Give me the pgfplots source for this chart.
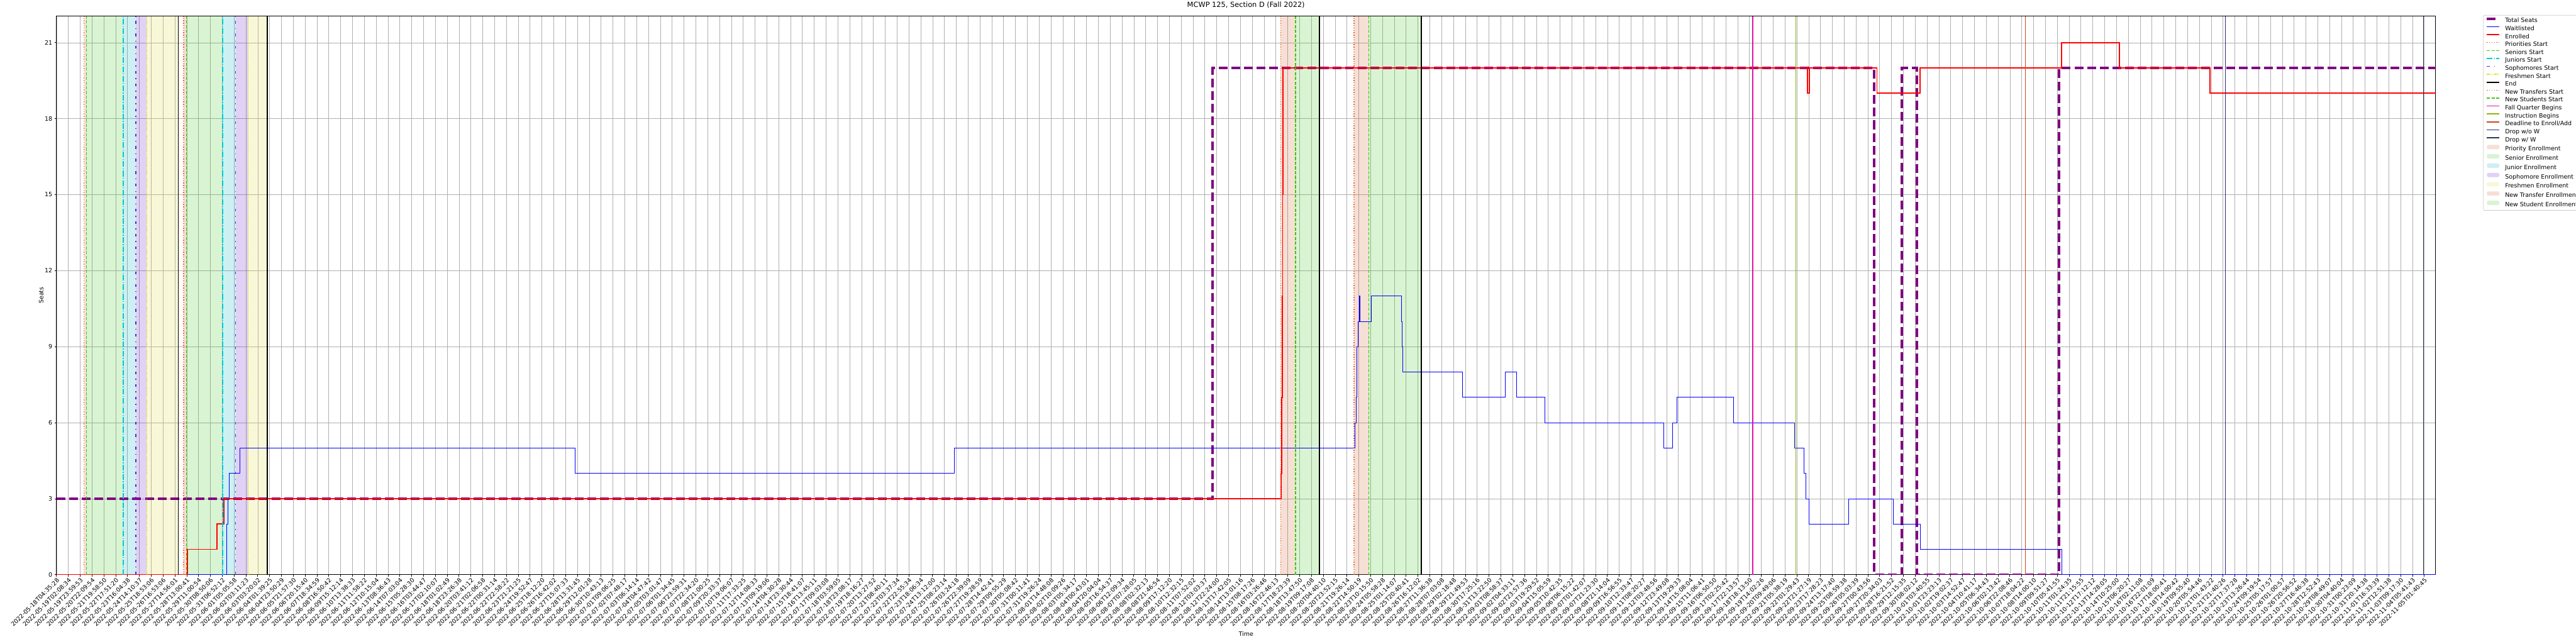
\documentclass[border=0pt]{standalone}
\usepackage{fontspec}
\setmainfont{DejaVu Sans}
\usepackage{pgfplots}
\pgfplotsset{compat=1.18}
\definecolor{cPri}{RGB}{240,100,50}
\definecolor{cSen}{RGB}{60,200,20}
\definecolor{cJun}{RGB}{0,200,215}
\definecolor{cSop}{RGB}{100,30,210}
\definecolor{cFre}{RGB}{225,225,40}
\definecolor{cFall}{RGB}{220,20,160}
\definecolor{cInst}{RGB}{140,180,20}
\definecolor{cDead}{RGB}{200,70,30}
\definecolor{cDropA}{RGB}{45,40,130}
\definecolor{cDropB}{RGB}{40,55,80}
\definecolor{fPri}{RGB}{210,95,45}
\definecolor{fSen}{RGB}{65,200,30}
\definecolor{fJun}{RGB}{5,180,190}
\definecolor{fSop}{RGB}{100,30,200}
\definecolor{fFre}{RGB}{220,220,60}
\definecolor{cGrid}{RGB}{176,176,176}
\definecolor{cLeg}{RGB}{204,204,204}
\definecolor{cSeats}{RGB}{128,0,128}
\tikzset{
 vpri/.style={color=cPri, line width=1.5bp, dash pattern=on 1.5bp off 2.5bp},
 vsen/.style={color=cSen, line width=1.5bp, dash pattern=on 5.5bp off 2.4bp},
 vjun/.style={color=cJun, line width=1.5bp, dash pattern=on 9.6bp off 2.4bp on 1.5bp off 2.4bp},
 vsop/.style={color=cSop, line width=1.5bp, dash pattern=on 4.5bp off 7.5bp on 1.5bp off 7.5bp},
 vfre/.style={color=cFre, line width=1.5bp, dash pattern=on 4.5bp off 1.5bp on 1.5bp off 1.5bp on 1.5bp off 1.5bp},
 vend/.style={color=black, line width=1.8bp},
 vfall/.style={color=cFall, line width=1.5bp},
 vinst/.style={color=cInst, line width=1.5bp},
 vdead/.style={color=cDead, line width=1.5bp},
 vdropa/.style={color=cDropA, line width=1.5bp},
 vdropb/.style={color=cDropB, line width=1.5bp},
}
\pgfplotsset{
 linelegend/.style={legend image code/.code={\draw[##1] (0bp,3.6bp) -- (21bp,3.6bp);}},
 arealegend/.style={legend image code/.code={\fill[##1, draw=none] (0bp,0bp) rectangle (21bp,7.2bp);}},
}
\begin{document}
\fontsize{10bp}{12bp}\selectfont
\begin{tikzpicture}
\useasboundingbox (0,0) rectangle (4320bp,1080bp);
\begin{axis}[
 at={(94.75bp,116.3bp)}, anchor=south west,
 scale only axis, width=3989.6bp, height=936.7bp,
 xmin=0, xmax=200.95, ymin=0, ymax=22.05,
 no markers,
 xtick pos=lower, ytick pos=left,
 xtick={0,...,200},
 ytick={0,3,...,21},
 xticklabels={2022-05-18T04:35:28,2022-05-19T02:08:34,2022-05-19T23:59:53,2022-05-20T22:09:54,2022-05-21T19:58:50,2022-05-22T17:51:20,2022-05-23T16:04:38,2022-05-24T14:10:37,2022-05-25T18:53:06,2022-05-26T16:53:06,2022-05-27T14:56:01,2022-05-28T13:00:41,2022-05-29T11:00:54,2022-05-30T08:50:06,2022-05-31T06:52:12,2022-06-01T05:05:58,2022-06-02T03:11:23,2022-06-03T03:20:02,2022-06-04T01:39:25,2022-06-04T23:50:29,2022-06-05T21:57:30,2022-06-06T20:15:40,2022-06-07T18:34:59,2022-06-08T16:50:42,2022-06-09T15:12:14,2022-06-10T13:38:33,2022-06-11T11:58:22,2022-06-12T10:15:04,2022-06-13T08:36:43,2022-06-14T07:03:04,2022-06-15T05:28:30,2022-06-16T03:44:47,2022-06-17T02:10:07,2022-06-18T01:02:49,2022-06-18T23:26:38,2022-06-20T03:41:12,2022-06-21T02:06:58,2022-06-22T00:31:14,2022-06-22T22:58:22,2022-06-23T21:21:25,2022-06-24T19:52:47,2022-06-25T18:12:20,2022-06-26T16:42:02,2022-06-27T15:07:33,2022-06-28T13:31:45,2022-06-29T12:01:28,2022-06-30T10:43:13,2022-07-01T09:06:25,2022-07-02T07:48:17,2022-07-03T06:14:14,2022-07-04T04:47:42,2022-07-05T03:01:47,2022-07-06T01:34:45,2022-07-06T23:59:31,2022-07-07T22:34:20,2022-07-08T21:00:25,2022-07-09T20:33:37,2022-07-10T19:06:07,2022-07-11T17:33:25,2022-07-12T14:08:33,2022-07-13T09:19:06,2022-07-14T04:30:28,2022-07-14T23:30:44,2022-07-15T18:41:07,2022-07-16T13:45:11,2022-07-17T09:03:08,2022-07-18T03:59:05,2022-07-18T23:08:17,2022-07-19T18:16:27,2022-07-20T13:27:52,2022-07-21T08:40:11,2022-07-22T03:37:34,2022-07-22T22:55:34,2022-07-23T18:06:34,2022-07-24T13:12:00,2022-07-25T08:23:14,2022-07-26T03:24:18,2022-07-26T22:39:09,2022-07-27T19:28:59,2022-07-28T14:42:41,2022-07-29T09:55:29,2022-07-30T05:08:42,2022-07-31T00:11:41,2022-07-31T19:26:24,2022-08-01T14:48:08,2022-08-02T10:09:26,2022-08-03T05:34:17,2022-08-04T00:43:01,2022-08-04T20:04:04,2022-08-05T16:54:37,2022-08-06T12:09:34,2022-08-07T07:28:05,2022-08-08T02:32:13,2022-08-08T21:46:54,2022-08-09T17:12:20,2022-08-10T12:32:15,2022-08-11T07:52:02,2022-08-12T03:03:37,2022-08-12T22:24:00,2022-08-13T17:42:05,2022-08-14T13:01:16,2022-08-15T08:17:26,2022-08-16T03:26:46,2022-08-16T22:46:13,2022-08-17T18:23:39,2022-08-18T13:47:50,2022-08-19T09:17:08,2022-08-20T04:40:10,2022-08-20T23:52:15,2022-08-21T19:26:14,2022-08-22T14:50:19,2022-08-23T10:15:50,2022-08-24T05:58:28,2022-08-25T01:14:07,2022-08-25T20:40:41,2022-08-26T16:12:02,2022-08-27T11:36:38,2022-08-28T07:03:08,2022-08-29T02:18:48,2022-08-29T21:49:53,2022-08-30T17:25:16,2022-08-31T13:22:50,2022-09-01T08:58:37,2022-09-02T04:33:11,2022-09-02T23:57:36,2022-09-03T19:29:52,2022-09-04T15:05:59,2022-09-05T10:42:35,2022-09-06T06:15:22,2022-09-07T01:42:07,2022-09-07T21:23:30,2022-09-08T21:14:04,2022-09-09T16:56:55,2022-09-10T12:33:47,2022-09-11T08:20:27,2022-09-12T03:48:56,2022-09-12T23:49:08,2022-09-13T19:29:33,2022-09-14T15:08:04,2022-09-15T11:06:41,2022-09-16T06:50:50,2022-09-17T02:25:42,2022-09-17T22:13:57,2022-09-18T18:13:50,2022-09-19T14:02:26,2022-09-20T09:49:06,2022-09-21T05:38:19,2022-09-22T01:29:43,2022-09-22T21:27:19,2022-09-23T17:28:23,2022-09-24T13:17:40,2022-09-25T08:59:38,2022-09-26T05:03:39,2022-09-27T00:43:56,2022-09-27T20:34:03,2022-09-28T16:21:52,2022-09-29T12:15:35,2022-09-30T08:02:12,2022-10-01T03:40:55,2022-10-01T23:23:13,2022-10-02T19:02:37,2022-10-03T14:52:47,2022-10-04T10:41:17,2022-10-05T06:34:43,2022-10-06T02:13:42,2022-10-06T22:08:46,2022-10-07T18:04:22,2022-10-08T14:00:10,2022-10-09T09:51:27,2022-10-10T05:41:55,2022-10-11T01:24:35,2022-10-11T21:15:55,2022-10-12T17:12:12,2022-10-13T14:28:05,2022-10-14T10:25:00,2022-10-15T06:20:27,2022-10-16T02:11:08,2022-10-16T22:01:09,2022-10-17T18:00:41,2022-10-18T14:00:42,2022-10-19T09:55:40,2022-10-20T05:54:46,2022-10-21T01:43:22,2022-10-21T21:40:26,2022-10-22T17:37:28,2022-10-23T13:26:44,2022-10-24T09:19:54,2022-10-25T05:17:57,2022-10-26T01:00:57,2022-10-26T20:56:52,2022-10-27T16:46:38,2022-10-28T12:52:43,2022-10-29T08:49:07,2022-10-30T04:40:04,2022-10-31T00:23:09,2022-10-31T20:14:38,2022-11-01T16:33:39,2022-11-02T12:51:38,2022-11-03T09:17:30,2022-11-04T05:41:43,2022-11-05T01:40:45},
 xticklabel style={rotate=45, anchor=north east, inner sep=1bp, font=\fontsize{10bp}{12bp}\selectfont},
 yticklabel style={font=\fontsize{10bp}{12bp}\selectfont, /pgf/number format/assume math mode=true},
 tick align=outside, major tick length=3.5bp,
 every tick/.style={black, line width=0.8bp},
 axis line style={line width=0.8bp},
 grid=major, major grid style={color=cGrid, line width=0.7bp},
 title={MCWP 125, Section D (Fall 2022)},
 title style={at={(0.5,1)}, anchor=base, yshift=9bp, font=\fontsize{12bp}{14bp}\selectfont},
 xlabel={Time}, xlabel style={at={(axis description cs:0.5,0)}, anchor=center, yshift=-99.5bp, font=\fontsize{10bp}{12bp}\selectfont},
 ylabel={Seats}, ylabel style={at={(axis description cs:0,0.5)}, anchor=center, yshift=25.8bp, font=\fontsize{10bp}{12bp}\selectfont},
 legend cell align=left,
 legend style={at={(1.02,1.002)}, anchor=north west, draw=cLeg, fill=white, rounded corners=2bp, line width=0.8bp,
   font=\fontsize{10bp}{12bp}\selectfont, inner xsep=3.9bp, inner ysep=4bp, row sep=3.5bp,
   /tikz/every odd column/.style={column sep=7.6bp},
   nodes={inner sep=0pt, text height=7.6bp, text depth=2.2bp}},
]
% shaded periods
\addplot[fill=fPri, fill opacity=0.2, draw=none, forget plot] coordinates {(2.32,22.05) (2.52,22.05)} \closedcycle;
\addplot[fill=fSen, fill opacity=0.2, draw=none, forget plot] coordinates {(2.52,22.05) (5.63,22.05)} \closedcycle;
\addplot[fill=fJun, fill opacity=0.2, draw=none, forget plot] coordinates {(5.63,22.05) (6.71,22.05)} \closedcycle;
\addplot[fill=fSop, fill opacity=0.2, draw=none, forget plot] coordinates {(6.71,22.05) (7.63,22.05)} \closedcycle;
\addplot[fill=fFre, fill opacity=0.2, draw=none, forget plot] coordinates {(7.63,22.05) (10.29,22.05)} \closedcycle;
\addplot[fill=fPri, fill opacity=0.2, draw=none, forget plot] coordinates {(10.75,22.05) (10.97,22.05)} \closedcycle;
\addplot[fill=fSen, fill opacity=0.2, draw=none, forget plot] coordinates {(10.97,22.05) (14.04,22.05)} \closedcycle;
\addplot[fill=fJun, fill opacity=0.2, draw=none, forget plot] coordinates {(14.04,22.05) (15.13,22.05)} \closedcycle;
\addplot[fill=fSop, fill opacity=0.2, draw=none, forget plot] coordinates {(15.13,22.05) (16.19,22.05)} \closedcycle;
\addplot[fill=fFre, fill opacity=0.2, draw=none, forget plot] coordinates {(16.19,22.05) (17.81,22.05)} \closedcycle;
\addplot[fill=fPri, fill opacity=0.2, draw=none, forget plot] coordinates {(103.40,22.05) (104.67,22.05)} \closedcycle;
\addplot[fill=fSen, fill opacity=0.2, draw=none, forget plot] coordinates {(104.67,22.05) (106.67,22.05)} \closedcycle;
\addplot[fill=fPri, fill opacity=0.2, draw=none, forget plot] coordinates {(109.61,22.05) (110.84,22.05)} \closedcycle;
\addplot[fill=fSen, fill opacity=0.2, draw=none, forget plot] coordinates {(110.84,22.05) (115.30,22.05)} \closedcycle;
% data
\addplot[const plot, color=cSeats, line width=4bp, dash pattern=on 14.8bp off 6.4bp, forget plot] coordinates {
 (0,3) (97.66,20) (153.54,0) (155.86,20) (157.16,0) (169.16,20) (200.95,20)};
\addplot[const plot, color=blue, line width=0.8bp, forget plot] coordinates {
 (0,0) (14.37,2) (14.46,3) (14.58,4) (15.48,5) (43.8,4) (75.86,5) (109.68,6) (109.77,7) (109.81,8) (109.85,9)
 (109.95,10) (110.02,11) (110.09,10) (111.08,11) (113.62,10) (113.68,9) (113.72,8) (118.75,7) (122.35,8)
 (123.3,7) (125.7,6) (135.76,5) (136.52,6) (136.85,7) (141.63,6) (146.82,5) (147.59,4) (147.74,3) (148.04,2)
 (151.38,3) (155.14,2) (157.43,1) (169.36,0) (200.95,0)};
\addplot[const plot, color=red, line width=2bp, forget plot] coordinates {
 (0,0) (11.04,1) (13.57,2) (14.12,3) (103.43,4) (103.49,7) (103.54,11) (103.57,15) (103.61,20)
 (147.89,19) (148.04,20) (153.77,19) (157.43,20) (169.36,21) (174.27,20) (181.88,19) (200.95,19)};
% vertical event lines
\addplot[vpri, forget plot] coordinates {(2.32,0) (2.32,22.05)};
\addplot[vsen, forget plot] coordinates {(2.52,0) (2.52,22.05)};
\addplot[vjun, forget plot] coordinates {(5.63,0) (5.63,22.05)};
\addplot[vsop, forget plot] coordinates {(6.71,0) (6.71,22.05)};
\addplot[vfre, forget plot] coordinates {(7.63,0) (7.63,22.05)};
\addplot[vend, forget plot] coordinates {(10.29,0) (10.29,22.05)};
\addplot[vpri, forget plot] coordinates {(10.75,0) (10.75,22.05)};
\addplot[vsen, forget plot] coordinates {(10.97,0) (10.97,22.05)};
\addplot[vjun, forget plot] coordinates {(14.04,0) (14.04,22.05)};
\addplot[vsop, forget plot] coordinates {(15.13,0) (15.13,22.05)};
\addplot[vfre, forget plot] coordinates {(16.19,0) (16.19,22.05)};
\addplot[vend, forget plot] coordinates {(17.81,0) (17.81,22.05)};
\addplot[vpri, forget plot] coordinates {(103.40,0) (103.40,22.05)};
\addplot[vsen, forget plot] coordinates {(104.67,0) (104.67,22.05)};
\addplot[vend, forget plot] coordinates {(106.67,0) (106.67,22.05)};
\addplot[vpri, forget plot] coordinates {(109.61,0) (109.61,22.05)};
\addplot[vsen, forget plot] coordinates {(110.84,0) (110.84,22.05)};
\addplot[vend, forget plot] coordinates {(115.30,0) (115.30,22.05)};
\addplot[vfall, forget plot] coordinates {(143.28,0) (143.28,22.05)};
\addplot[vinst, forget plot] coordinates {(146.92,0) (146.92,22.05)};
\addplot[vdead, forget plot] coordinates {(166.31,0) (166.31,22.05)};
\addplot[vdropa, forget plot] coordinates {(183.2,0) (183.2,22.05)};
\addplot[vdropb, forget plot] coordinates {(199.93,0) (199.93,22.05)};
% legend
\addlegendimage{linelegend, color=cSeats, line width=4bp, dash pattern=on 14.8bp off 6.4bp}\addlegendentry{Total Seats}
\addlegendimage{linelegend, color=blue, line width=1bp}\addlegendentry{Waitlisted}
\addlegendimage{linelegend, color=red, line width=2bp}\addlegendentry{Enrolled}
\addlegendimage{linelegend, vpri}\addlegendentry{Priorities Start}
\addlegendimage{linelegend, vsen}\addlegendentry{Seniors Start}
\addlegendimage{linelegend, vjun}\addlegendentry{Juniors Start}
\addlegendimage{linelegend, vsop}\addlegendentry{Sophomores Start}
\addlegendimage{linelegend, vfre}\addlegendentry{Freshmen Start}
\addlegendimage{linelegend, vend}\addlegendentry{End}
\addlegendimage{linelegend, vpri}\addlegendentry{New Transfers Start}
\addlegendimage{linelegend, vsen}\addlegendentry{New Students Start}
\addlegendimage{linelegend, vfall}\addlegendentry{Fall Quarter Begins}
\addlegendimage{linelegend, vinst}\addlegendentry{Instruction Begins}
\addlegendimage{linelegend, vdead}\addlegendentry{Deadline to Enroll/Add}
\addlegendimage{linelegend, vdropa}\addlegendentry{Drop w/o W}
\addlegendimage{linelegend, vdropb}\addlegendentry{Drop w/ W}
\addlegendimage{arealegend, fill=fPri, fill opacity=0.2}\addlegendentry{Priority Enrollment}
\addlegendimage{arealegend, fill=fSen, fill opacity=0.2}\addlegendentry{Senior Enrollment}
\addlegendimage{arealegend, fill=fJun, fill opacity=0.2}\addlegendentry{Junior Enrollment}
\addlegendimage{arealegend, fill=fSop, fill opacity=0.2}\addlegendentry{Sophomore Enrollment}
\addlegendimage{arealegend, fill=fFre, fill opacity=0.2}\addlegendentry{Freshmen Enrollment}
\addlegendimage{arealegend, fill=fPri, fill opacity=0.2}\addlegendentry{New Transfer Enrollment}
\addlegendimage{arealegend, fill=fSen, fill opacity=0.2}\addlegendentry{New Student Enrollment}
\end{axis}
\end{tikzpicture}
\end{document}
